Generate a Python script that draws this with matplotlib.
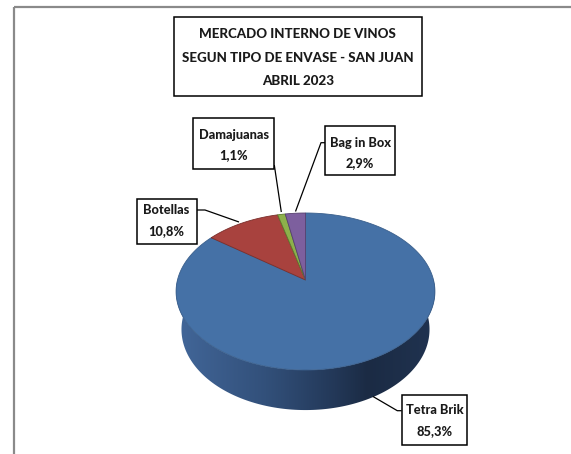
import numpy as np
import matplotlib
matplotlib.use("Agg")
import matplotlib.pyplot as plt
from matplotlib.patches import Polygon, Rectangle
from matplotlib.colors import LinearSegmentedColormap
from matplotlib import font_manager

# ---------------- data ----------------
categories = ["Tetra Brik", "Botellas", "Damajuanas", "Bag in Box"]
values = [85.3, 10.8, 1.1, 2.9]
value_labels = ["85,3%", "10,8%", "1,1%", "2,9%"]
title_lines = ["MERCADO INTERNO DE VINOS", "SEGUN TIPO DE ENVASE - SAN JUAN", "ABRIL 2023"]

# ---------------- style ----------------
slice_colors = ["#4571a6", "#a8423e", "#8db04b", "#7d5f9e"]
edge_colors = ["#3a5f8c", "#7a2e2b", "#5d7a2c", "#55406e"]


def _w(v):
    try:
        return int(v)
    except (TypeError, ValueError):
        return {"bold": 700, "heavy": 800, "black": 900}.get(str(v), 400)


lato_w = [_w(f.weight) for f in font_manager.fontManager.ttflist if f.name == "Lato"]
if lato_w and max(lato_w) >= 700:
    FAM = ["Lato", "DejaVu Sans"]
    WEIGHT = 900 if max(lato_w) >= 800 else 700
else:
    FAM = ["Roboto", "DejaVu Sans"]
    WEIGHT = 700

W, H = 571, 454
fig = plt.figure(figsize=(W / 100, H / 100), dpi=100)
ax = fig.add_axes([0, 0, 1, 1])
ax.set_xlim(0, W)
ax.set_ylim(H, 0)
ax.axis("off")
fig.canvas.draw()
renderer = fig.canvas.get_renderer()


def fit_size(text, target_px):
    t = ax.text(0, 0, text, fontsize=10, family=FAM, weight=WEIGHT)
    w = t.get_window_extent(renderer).width
    t.remove()
    return 10 * target_px / w


# ---------------- 3D pie projection (perspective) ----------------
cx, cy = 305.5, 280.0
F, D = 699.0, 5.46
s_a, c_a = 0.6, 0.8
depth = 0.388


def proj(phi_deg, z=0.0):
    r = np.radians(phi_deg)
    X, Y = np.sin(r), np.cos(r)
    den = D + Y * c_a + z * depth * s_a
    return cx + F * X / den, cy - F * (Y * s_a - z * depth * c_a) / den


# side (outer wall) with horizontal gradient
phis = np.linspace(60, 300, 200)
bx, by = proj(phis, 1.0)
tx, ty = proj(phis[::-1], 0.0)
side_pts = np.column_stack([np.concatenate([bx, tx]), np.concatenate([by, ty])])
side_patch = Polygon(side_pts, closed=True, facecolor="none", edgecolor="none")
ax.add_patch(side_patch)
grad_cmap = LinearSegmentedColormap.from_list(
    "side",
    [(0.0, "#43689b"), (0.35, "#32507a"), (0.6, "#233858"), (0.72, "#1b2b44"), (1.0, "#213452")],
)
img = ax.imshow(np.linspace(0, 1, 256)[None, :], cmap=grad_cmap, extent=(170, 445, 420, 280),
                aspect="auto", interpolation="bilinear", zorder=1)
img.set_clip_path(side_patch)
ax.set_xlim(0, W)
ax.set_ylim(H, 0)

# top face wedges (clockwise from 12 o'clock)
total = sum(values)
start = 0.0
for v, fc, ec in zip(values, slice_colors, edge_colors):
    ang = 360.0 * v / total
    n = max(int(ang * 2), 4)
    arc = np.linspace(start, start + ang, n)
    ax_, ay_ = proj(arc, 0.0)
    pts = np.column_stack([np.concatenate([[cx], ax_]), np.concatenate([[cy], ay_])])
    ax.add_patch(Polygon(pts, closed=True, facecolor=fc, edgecolor=ec, lw=0.6, zorder=2))
    start += ang

# ---------------- labels ----------------
lab_fs = fit_size("Damajuanas", 70)
title_fs = fit_size(title_lines[1], 232)

# boxes: (left, top, right, bottom), line centers
boxes = {
    "Tetra Brik": ((401.7, 395, 467, 445), (410.5, 431.5)),
    "Botellas": ((136.5, 198.5, 196.5, 244), (210, 231)),
    "Damajuanas": ((193.3, 118.3, 274.3, 169), (135, 155.5)),
    "Bag in Box": ((325, 126, 395, 175), (142.7, 163.3)),
}
leaders = {
    "Tetra Brik": [(401.7, 410.7), (397.3, 410.7), (373.0, 396.5)],
    "Botellas": [(196.5, 210), (205, 210), (239, 222)],
    "Damajuanas": [(274.3, 165), (281.3, 212)],
    "Bag in Box": [(325, 142.7), (321, 142.7), (295.5, 211.5)],
}
for cat, vl in zip(categories, value_labels):
    (l, t, r, b), (y1, y2) = boxes[cat]
    ax.add_patch(Rectangle((l, t), r - l, b - t, facecolor="white", edgecolor="black", lw=1.1, zorder=4))
    xs, ys = zip(*leaders[cat])
    ax.plot(xs, ys, color="black", lw=0.9, zorder=3, solid_capstyle="butt")
    xm = (l + r) / 2
    ax.text(xm, y1, cat, fontsize=lab_fs, family=FAM, weight=WEIGHT, ha="center", va="center", color="#1a1a1a", zorder=5)
    ax.text(xm, y2, vl, fontsize=lab_fs, family=FAM, weight=WEIGHT, ha="center", va="center", color="#1a1a1a", zorder=5)

# title box
ax.add_patch(Rectangle((174, 16.7), 421.7 - 174, 96 - 16.7, facecolor="white", edgecolor="black", lw=1.1, zorder=4))
for line, yy in zip(title_lines, (33.7, 58, 81.2)):
    ax.text(297.8, yy, line, fontsize=title_fs, family=FAM, weight=WEIGHT, ha="center", va="center",
            color="#1a1a1a", zorder=5)

# chart area border (top and left visible)
ax.plot([13.5, W], [6.5, 6.5], color="#8a8a8a", lw=1.6, zorder=6, solid_capstyle="butt")
ax.plot([13.5, 13.5], [6.5, H], color="#8a8a8a", lw=1.6, zorder=6, solid_capstyle="butt")

fig.savefig("out.png", dpi=100)
